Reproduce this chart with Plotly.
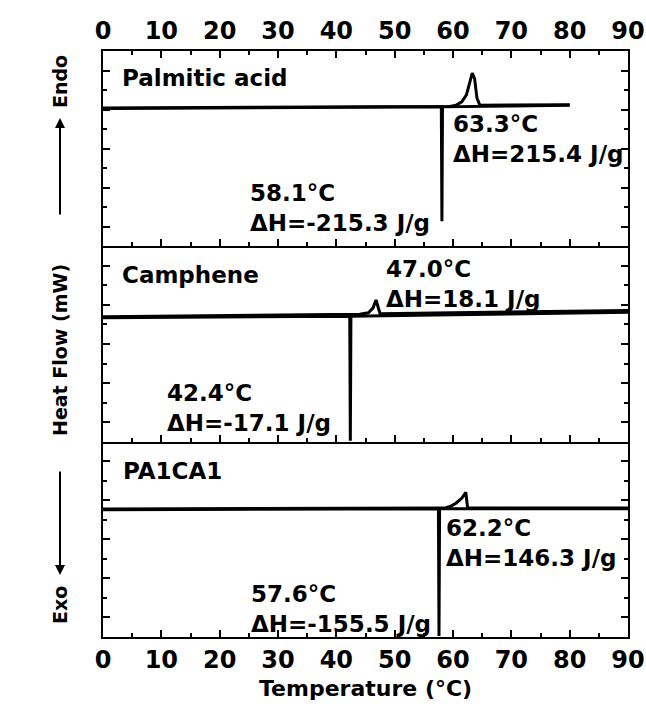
import plotly.graph_objects as go
from plotly.subplots import make_subplots

# ---------------- data ----------------
temp_ticks = [0, 10, 20, 30, 40, 50, 60, 70, 80, 90]

# Palmitic acid – heating (melting peak 63.3 °C) and cooling (freezing 58.1 °C)
pa_heat_T = [0, 30, 59.5, 60.5, 61.5, 62.3, 62.9, 63.3, 63.7, 64.1, 64.6, 70, 80]
pa_heat_HF = [7.08, 7.12, 7.16, 7.22, 7.40, 7.75, 8.40, 8.87, 8.60, 7.60, 7.22, 7.23, 7.25]
pa_cool_T = [0, 30, 58.0, 58.1, 58.2, 70, 80]
pa_cool_HF = [7.05, 7.10, 7.14, 1.29, 7.14, 7.18, 7.22]

# Camphene – heating (47.0 °C) and cooling (42.4 °C)
ca_heat_T = [0, 20, 40, 44, 45.5, 46.3, 46.8, 47.2, 47.5, 60, 75, 90]
ca_heat_HF = [6.40, 6.45, 6.50, 6.52, 6.60, 6.85, 7.25, 6.90, 6.55, 6.60, 6.65, 6.72]
ca_cool_T = [0, 20, 42.3, 42.4, 42.5, 60, 90]
ca_cool_HF = [6.35, 6.38, 6.42, 0.05, 6.42, 6.50, 6.62]

# PA1CA1 – heating (62.2 °C) and cooling (57.6 °C)
mx_heat_T = [0, 30, 58.5, 59.5, 60.5, 61.5, 62.2, 62.5, 63, 75, 90]
mx_heat_HF = [6.55, 6.57, 6.60, 6.68, 6.85, 7.10, 7.40, 6.62, 6.60, 6.60, 6.60]
mx_cool_T = [0, 30, 57.5, 57.6, 57.7, 75, 90]
mx_cool_HF = [6.52, 6.55, 6.56, 0.05, 6.56, 6.57, 6.57]

sample_names = ["Palmitic acid", "Camphene", "PA1CA1"]
melt_labels = ["63.3°C<br>ΔH=215.4 J/g", "47.0°C<br>ΔH=18.1 J/g", "62.2°C<br>ΔH=146.3 J/g"]
freeze_labels = ["58.1°C<br>ΔH=-215.3 J/g", "42.4°C<br>ΔH=-17.1 J/g", "57.6°C<br>ΔH=-155.5 J/g"]

# ---------------- figure ----------------
FONT = "DejaVu Sans"
fig = make_subplots(rows=3, cols=1, vertical_spacing=0)

series = [
    (pa_heat_T, pa_heat_HF, 1), (pa_cool_T, pa_cool_HF, 1),
    (ca_heat_T, ca_heat_HF, 2), (ca_cool_T, ca_cool_HF, 2),
    (mx_heat_T, mx_heat_HF, 3), (mx_cool_T, mx_cool_HF, 3),
]
for T, HF, row in series:
    fig.add_trace(go.Scatter(x=T, y=HF, mode="lines",
                             line=dict(color="black", width=3),
                             showlegend=False, hoverinfo="skip"),
                  row=row, col=1)

common = dict(showline=True, linecolor="black", linewidth=2, ticks="inside",
              tickcolor="black", tickwidth=2, showgrid=False, zeroline=False,
              automargin=False)
for r in (1, 2, 3):
    fig.update_xaxes(range=[0, 90], tickvals=temp_ticks, ticklen=7,
                     minor=dict(dtick=5, tick0=0, ticks="inside", ticklen=4,
                                tickcolor="black", tickwidth=2),
                     tickfont=dict(family=FONT, size=24, color="black", weight="bold"),
                     **common, row=r, col=1)
    fig.update_yaxes(range=[0, 10], tick0=1, dtick=2, ticklen=7, mirror="ticks",
                     showticklabels=False,
                     minor=dict(dtick=1, tick0=0, ticks="inside", ticklen=4,
                                tickcolor="black", tickwidth=2),
                     **common, row=r, col=1)
fig.update_xaxes(side="top", showticklabels=True, mirror="ticks", row=1, col=1)
fig.update_xaxes(showticklabels=False, mirror=False, row=2, col=1)
fig.update_xaxes(showticklabels=True, mirror=False, row=3, col=1)

# label placement (layout only)
name_pos = [(2.9, 8.6), (2.9, 8.52), (3.0, 8.52)]
melt_pos = [(59.6, 5.5), (48.2, 8.05), (58.5, 4.8)]
freeze_pos = [(24.8, 1.95), (10.6, 1.7), (25.0, 1.45)]

ann_font = dict(family=FONT, size=23, color="black", weight="bold")
for i in range(3):
    xr, yr = ("x", "y") if i == 0 else (f"x{i+1}", f"y{i+1}")
    for txt, (px, py) in ((sample_names[i], name_pos[i]),
                          (melt_labels[i], melt_pos[i]),
                          (freeze_labels[i], freeze_pos[i])):
        fig.add_annotation(x=px, y=py, xref=xr, yref=yr, text=txt, showarrow=False,
                           xanchor="left", yanchor="middle", align="left",
                           font=ann_font)

W, H = 646, 704
ML, MR, MT, MB = 103, 18, 51, 67
PW, PH = W - ML - MR, H - MT - MB


def px_x(p):
    return (p - ML) / PW


def px_y(p):
    return (H - MB - p) / PH


ylab_font = dict(family=FONT, size=19, color="black", weight="bold")
for txt, yc in (("Endo", 82), ("Heat Flow (mW)", 350), ("Exo", 605)):
    fig.add_annotation(x=px_x(60), y=px_y(yc), xref="paper", yref="paper", text=txt,
                       showarrow=False, textangle=-90, xanchor="center",
                       yanchor="middle", font=ylab_font)
# arrows of the y-axis title
fig.add_annotation(x=px_x(60), y=px_y(118), xref="paper", yref="paper", text="",
                   showarrow=True, ax=0, ay=98, arrowhead=2, arrowsize=1,
                   arrowwidth=2, arrowcolor="black")
fig.add_annotation(x=px_x(60), y=px_y(575), xref="paper", yref="paper", text="",
                   showarrow=True, ax=0, ay=-105, arrowhead=2, arrowsize=1,
                   arrowwidth=2, arrowcolor="black")

fig.add_annotation(x=0.5, y=px_y(688), xref="paper", yref="paper",
                   text="Temperature (°C)", showarrow=False, xanchor="center",
                   yanchor="middle",
                   font=dict(family=FONT, size=22, color="black", weight="bold"))

fig.update_layout(width=W, height=H, margin=dict(l=ML, r=MR, t=MT, b=MB),
                  paper_bgcolor="white", plot_bgcolor="white",
                  font=dict(family=FONT, color="black"))

fig.write_html("out.html")
